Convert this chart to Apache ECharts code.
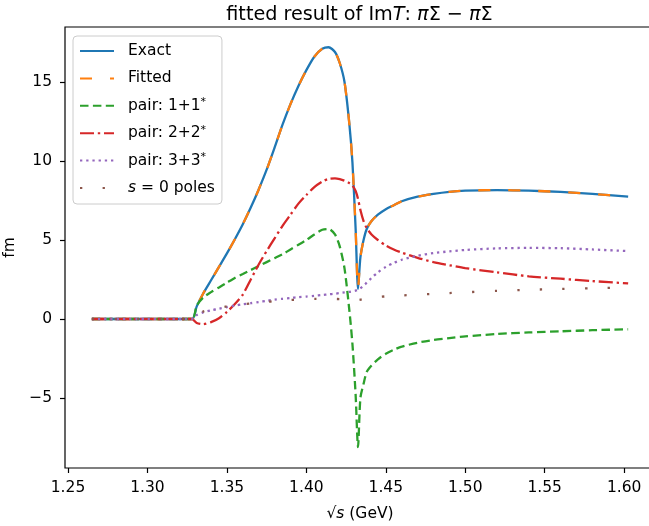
<!DOCTYPE html>
<html>
<head>
<meta charset="utf-8">
<script src="https://cdn.jsdelivr.net/npm/echarts@6/dist/echarts.min.js"></script>
<style>
  html, body { margin: 0; padding: 0; background: #ffffff; }
  #chart { width: 649px; height: 526px; }
</style>
</head>
<body>
<div id="chart"></div>
<script>
// sqrt(s) sample points in GeV
const xs = [1.265, 1.300, 1.328, 1.331, 1.335, 1.340, 1.345, 1.350, 1.355, 1.360,
            1.365, 1.370, 1.375, 1.380, 1.385, 1.390, 1.395, 1.400, 1.405, 1.410,
            1.414, 1.418, 1.421, 1.424, 1.427, 1.429, 1.431, 1.4325, 1.434, 1.436,
            1.438, 1.441, 1.445, 1.450, 1.455, 1.460, 1.470, 1.480, 1.490, 1.500,
            1.520, 1.540, 1.560, 1.580, 1.6025];

// Im T (fm)
const exact = [0, 0, 0, 0.8, 1.6, 2.45, 3.3, 4.15, 5.05, 6.0,
               7.05, 8.2, 9.45, 10.85, 12.3, 13.6, 14.75, 15.75, 16.6, 17.1,
               17.2, 16.9, 16.2, 15.0, 12.4, 9.9, 5.7, 1.9, 3.9, 5.0,
               5.7, 6.2, 6.6, 6.95, 7.2, 7.45, 7.74, 7.92, 8.05, 8.12,
               8.16, 8.12, 8.04, 7.92, 7.74];
const fitted = [0, 0, 0, 0.8, 1.6, 2.45, 3.3, 4.15, 5.05, 6.0,
                7.05, 8.2, 9.45, 10.85, 12.3, 13.6, 14.75, 15.75, 16.6, 17.1,
                17.2, 16.9, 16.2, 15.0, 12.4, 9.9, 5.7, 1.9, 3.9, 5.0,
                5.7, 6.2, 6.6, 6.95, 7.2, 7.45, 7.74, 7.92, 8.05, 8.12,
                8.16, 8.12, 8.04, 7.92, 7.74];
const pair1 = [0, 0, 0, 0.85, 1.35, 1.7, 2.0, 2.3, 2.6, 2.85,
               3.1, 3.35, 3.6, 3.85, 4.1, 4.4, 4.7, 5.0, 5.35, 5.65,
               5.7, 5.35, 4.6, 3.2, 0.6, -1.6, -4.8, -8.1, -5.0, -4.1,
               -3.35, -2.95, -2.55, -2.2, -1.95, -1.75, -1.5, -1.33, -1.21, -1.1,
               -0.95, -0.85, -0.78, -0.71, -0.65];
const pair2 = [0, 0, 0, -0.25, -0.33, -0.2, 0.05, 0.45, 0.95, 1.55,
               2.5, 3.45, 4.3, 5.1, 5.9, 6.6, 7.3, 7.85, 8.35, 8.7,
               8.87, 8.9, 8.85, 8.75, 8.6, 8.45, 8.1, 7.6, 6.9, 6.2,
               5.75, 5.35, 5.0, 4.65, 4.4, 4.2, 3.87, 3.6, 3.4, 3.22,
               2.95, 2.7, 2.55, 2.4, 2.25];
const pair3 = [0, 0, 0, 0.25, 0.42, 0.55, 0.65, 0.75, 0.85, 0.93,
               1.0, 1.07, 1.15, 1.22, 1.28, 1.33, 1.38, 1.42, 1.47, 1.52,
               1.56, 1.6, 1.64, 1.68, 1.72, 1.76, 1.8, 1.86, 1.95, 2.1,
               2.3, 2.6, 2.95, 3.3, 3.55, 3.75, 4.0, 4.17, 4.28, 4.37,
               4.47, 4.5, 4.48, 4.4, 4.3];
const poles = [0, 0, 0, 0.3, 0.47, 0.6, 0.7, 0.8, 0.87, 0.93,
               0.98, 1.03, 1.08, 1.13, 1.17, 1.2, 1.23, 1.25, 1.27, 1.27,
               1.27, 1.27, 1.26, 1.25, 1.23, 1.22, 1.2, 1.2, 1.22, 1.26,
               1.3, 1.34, 1.39, 1.43, 1.46, 1.49, 1.54, 1.59, 1.64, 1.69,
               1.78, 1.85, 1.9, 1.95, 2.0];

const xTicks = [1.25, 1.30, 1.35, 1.40, 1.45, 1.50, 1.55, 1.60];
const yTicks = [-5, 0, 5, 10, 15];

const FONT = 'DejaVu Sans';
const BLACK = '#000000';

function pts(ys) {
  return xs.map((x, i) => [x, ys[i]]);
}

const seriesDefs = [
  { name: 'Exact', data: exact, color: '#1f77b4', type: 'solid' },
  { name: 'Fitted', data: fitted, color: '#ff7f0e', type: [12, 18] },
  { name: 'pair1', data: pair1, color: '#2ca02c', type: [8.5, 4.4] },
  { name: 'pair2', data: pair2, color: '#d62728', type: [14, 3.8, 2.4, 3.8] },
  { name: 'pair3', data: pair3, color: '#9467bd', type: [2.3, 3.9] },
  { name: 'poles', data: poles, color: '#8c564b', type: [2.3, 20.3] }
];

const legendText = {
  Exact: '{n|Exact}',
  Fitted: '{n|Fitted}',
  pair1: '{n|pair: 1+1}{s|*}',
  pair2: '{n|pair: 2+2}{s|*}',
  pair3: '{n|pair: 3+3}{s|*}',
  poles: '{i|s}{n| = 0 poles}'
};

const baseText = { fontFamily: FONT, fontSize: 15.5, fontWeight: 'normal', color: BLACK };

const chart = echarts.init(document.getElementById('chart'), null, { renderer: 'canvas' });

chart.setOption({
  animation: false,
  backgroundColor: '#ffffff',
  title: {
    text: '{t|fitted result of Im}{i|T}{t|: }{i|π}{t|Σ − }{i|π}{t|Σ}',
    left: 359.5,
    top: 6,
    textAlign: 'center',
    padding: 0,
    textStyle: {
      fontWeight: 'normal',
      rich: {
        t: { fontFamily: FONT, fontSize: 19.2, fontWeight: 'normal', color: BLACK },
        i: { fontFamily: FONT, fontSize: 19.2, fontWeight: 'normal', fontStyle: 'italic', color: BLACK }
      }
    }
  },
  grid: {
    left: 65, top: 27, right: -6, bottom: 58,
    containLabel: false,
    outerBoundsMode: 'none',
    show: true, borderColor: BLACK, borderWidth: 1.2,
    backgroundColor: 'transparent'
  },
  legend: {
    orient: 'vertical',
    left: 73, top: 36,
    itemWidth: 34, itemHeight: 14, itemGap: 9.4,
    padding: [6, 7, 7, 6],
    backgroundColor: 'rgba(255,255,255,0.8)',
    borderColor: '#cccccc', borderWidth: 1, borderRadius: 4,
    itemStyle: { opacity: 0, borderWidth: 0 },
    data: seriesDefs.map(s => s.name),
    formatter: name => legendText[name],
    textStyle: Object.assign({}, baseText, {
      lineHeight: 18,
      padding: [0, 0, 0, 9],
      rich: {
        n: Object.assign({}, baseText, { lineHeight: 18 }),
        i: Object.assign({}, baseText, { fontStyle: 'italic', lineHeight: 18 }),
        s: { fontFamily: FONT, fontSize: 11, color: BLACK, verticalAlign: 'top', lineHeight: 11 }
      }
    })
  },
  xAxis: {
    type: 'value',
    min: 1.2481, max: 1.6194,
    axisLine: { show: false, onZero: false },
    splitLine: { show: false },
    axisTick: { show: true, length: 5, lineStyle: { color: BLACK, width: 1.2 }, customValues: xTicks },
    axisLabel: Object.assign({}, baseText, {
      customValues: xTicks,
      margin: 12,
      formatter: v => v.toFixed(2)
    }),
    name: '{r|√}{i|s}{n| (GeV)}',
    nameLocation: 'middle',
    nameGap: 38,
    nameTextStyle: {
      rich: {
        r: Object.assign({}, baseText),
        i: Object.assign({}, baseText, { fontStyle: 'italic' }),
        n: Object.assign({}, baseText)
      }
    }
  },
  yAxis: {
    type: 'value',
    min: -9.43, max: 18.48,
    axisLine: { show: false, onZero: false },
    splitLine: { show: false },
    axisTick: { show: true, length: 5, lineStyle: { color: BLACK, width: 1.2 }, customValues: yTicks },
    axisLabel: Object.assign({}, baseText, {
      customValues: yTicks,
      margin: 13,
      formatter: v => (v < 0 ? '\u2212' + Math.abs(v) : String(v))
    }),
    name: 'fm',
    nameLocation: 'middle',
    nameGap: 39,
    nameTextStyle: Object.assign({}, baseText)
  },
  series: seriesDefs.map(s => ({
    name: s.name,
    type: 'line',
    data: pts(s.data),
    symbol: 'none',
    smooth: 0.25,
    clip: true,
    color: s.color,
    lineStyle: { color: s.color, width: 2.3, type: s.type, cap: 'butt' },
    emphasis: { disabled: true }
  }))
});
</script>
</body>
</html>
